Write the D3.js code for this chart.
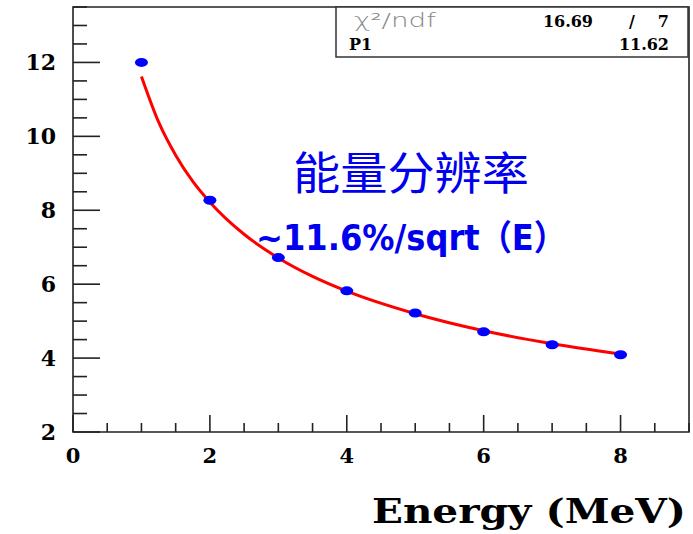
<!DOCTYPE html>
<html>
<meta charset="UTF-8">
<style>
body { margin: 0; background: #fff; }
</style>
<body>
<svg width="693" height="534"></svg>
<script src="https://d3js.org/d3.v7.min.js"></script>
<script>
// measured points (E in MeV, resolution %)
var energy = [1, 2, 3, 4, 5, 6, 7, 8];
var resolution = [12.0, 8.27, 6.72, 5.82, 5.22, 4.71, 4.36, 4.09];

// fitted curve
var fitE = [1, 1.25, 1.5, 1.75, 2, 2.5, 3, 3.5, 4, 5, 6, 7, 8];
var fitVal = [11.62, 10.39, 9.49, 8.78, 8.22, 7.35, 6.71, 6.21, 5.81, 5.20, 4.74, 4.39, 4.11];

var xTicks = [0, 2, 4, 6, 8];
var yTicks = [2, 4, 6, 8, 10, 12];
var stats = [["χ²/ndf", "16.69", "/", "7"], ["P1", "", "", "11.62"]];

var serif = "'DejaVu Serif', serif";
var svg = d3.select("svg");

var x = d3.scaleLinear().domain([0, 9]).range([73, 689]);
var y = d3.scaleLinear().domain([2, 13.5]).range([432, 7]);

var g = svg.append("g");

// frame
g.append("path")
    .attr("d", "M" + x(0) + "," + y(2) + "V" + y(13.5) + "H" + x(9) + "V" + y(2) + "Z")
    .attr("fill", "none")
    .attr("stroke", "#222")
    .attr("stroke-width", 1.6);

// y axis ticks (inward)
var yMinor = d3.range(2, 13.51, 0.5);
g.selectAll(".ytick").data(yMinor).enter().append("line")
    .attr("x1", x(0))
    .attr("x2", function(d) { return x(0) + (d % 2 === 0 ? 27 : 14); })
    .attr("y1", function(d) { return y(d); })
    .attr("y2", function(d) { return y(d); })
    .attr("stroke", "#222").attr("stroke-width", 1.6);

g.selectAll(".ylab").data(yTicks).enter().append("text")
    .attr("x", 56)
    .attr("y", function(d) { return y(d) + 8; })
    .attr("text-anchor", "end")
    .style("font-family", serif)
    .attr("font-size", 22)
    .attr("font-weight", "bold")
    .text(function(d) { return d; });

// x axis ticks
var xMinor = d3.range(0, 9.01, 0.5);
g.selectAll(".xtick").data(xMinor).enter().append("line")
    .attr("x1", function(d) { return x(d); })
    .attr("x2", function(d) { return x(d); })
    .attr("y1", y(2))
    .attr("y2", function(d) { return y(2) - (d % 2 === 0 ? 17 : 9); })
    .attr("stroke", "#222").attr("stroke-width", 1.6);

g.selectAll(".xlab").data(xTicks).enter().append("text")
    .attr("x", function(d) { return x(d); })
    .attr("y", 463)
    .attr("text-anchor", "middle")
    .style("font-family", serif)
    .attr("font-size", 21)
    .attr("font-weight", "bold")
    .text(function(d) { return d; });

svg.append("text")
    .attr("x", 686).attr("y", 523)
    .attr("text-anchor", "end")
    .style("font-family", serif)
    .attr("font-size", 33)
    .attr("font-weight", "bold")
    .attr("textLength", 314)
    .attr("lengthAdjust", "spacingAndGlyphs")
    .text("Energy (MeV)");

// fit line
var line = d3.line()
    .x(function(d, i) { return x(fitE[i]); })
    .y(function(d) { return y(d); })
    .curve(d3.curveMonotoneX);

g.append("path")
    .datum(fitVal)
    .attr("d", line)
    .attr("fill", "none")
    .attr("stroke", "#ff0000")
    .attr("stroke-width", 3);

// points
g.selectAll(".pt").data(resolution).enter().append("ellipse")
    .attr("cx", function(d, i) { return x(energy[i]); })
    .attr("cy", function(d) { return y(d); })
    .attr("rx", 6.5)
    .attr("ry", 4.5)
    .attr("fill", "#0000ff");

// stats box
svg.append("rect")
    .attr("x", 336).attr("y", 7)
    .attr("width", 352).attr("height", 50)
    .attr("fill", "#fff")
    .attr("stroke", "#333")
    .attr("stroke-width", 1.5);

svg.append("text")
    .attr("x", 354).attr("y", 27)
    .style("font-family", "'DejaVu Sans', sans-serif")
    .style("font-weight", 200)
    .attr("font-size", 19)
    .attr("fill", "#888")
    .attr("textLength", 82)
    .attr("lengthAdjust", "spacingAndGlyphs")
    .text(stats[0][0]);

var statCells = [
  [stats[0][1], 593, 27, "end"],
  [stats[0][2], 632, 27, "middle"],
  [stats[0][3], 669, 27, "end"],
  [stats[1][0], 349, 50, "start"],
  [stats[1][3], 669, 50, "end"]
];
svg.selectAll(".stat").data(statCells).enter().append("text")
    .attr("x", function(d) { return d[1]; })
    .attr("y", function(d) { return d[2]; })
    .attr("text-anchor", function(d) { return d[3]; })
    .style("font-family", serif)
    .attr("font-size", 16)
    .attr("font-weight", "bold")
    .text(function(d) { return d[0]; });

// annotations
svg.append("text")
    .attr("x", 293).attr("y", 190)
    .style("font-family", "'Noto Sans CJK SC', sans-serif")
    .attr("font-size", 45)
    .attr("fill", "#0000ee")
    .attr("textLength", 236)
    .attr("lengthAdjust", "spacingAndGlyphs")
    .text("能量分辨率");

svg.append("text")
    .attr("x", 256).attr("y", 250)
    .style("font-family", "'DejaVu Sans', 'Noto Sans CJK SC', sans-serif")
    .attr("font-size", 35)
    .attr("font-weight", "bold")
    .attr("fill", "#0000ee")
    .attr("textLength", 310)
    .attr("lengthAdjust", "spacingAndGlyphs")
    .text("~11.6%/sqrt（E）");
</script>
</body>
</html>
